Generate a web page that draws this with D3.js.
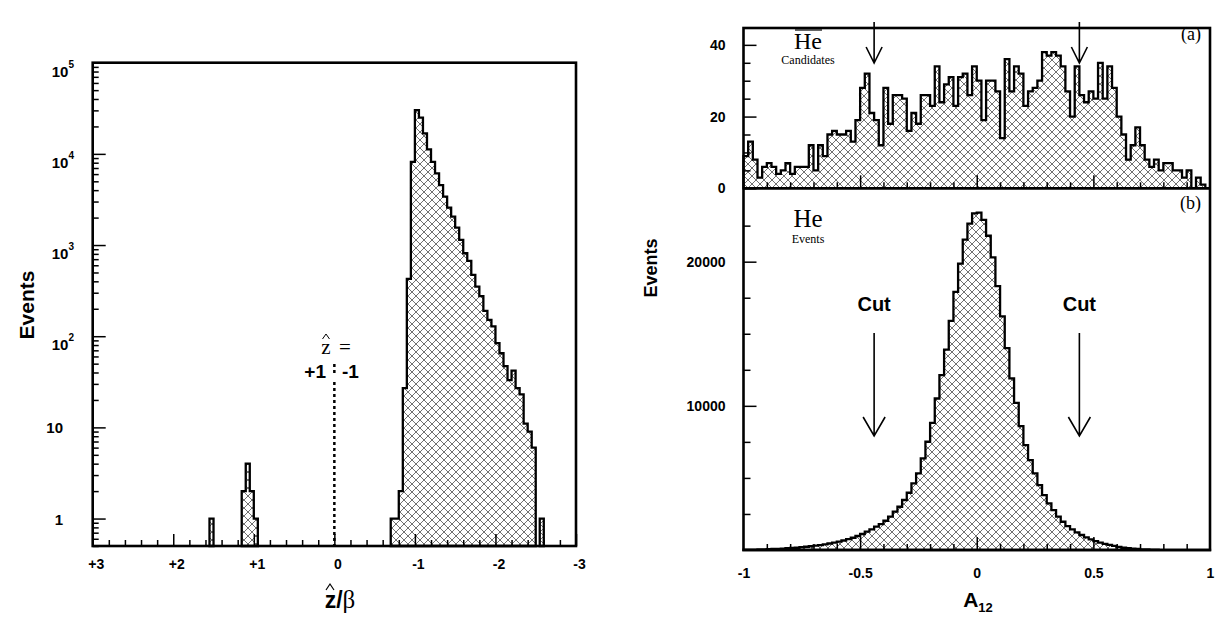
<!DOCTYPE html>
<html>
<head>
<meta charset="utf-8">
<script src="https://cdn.jsdelivr.net/npm/d3@7"></script>
<style>
  body { margin: 0; background: #fff; }
  .sans { font-family: "Liberation Sans", Arial, Helvetica, sans-serif; font-weight: bold; }
  .serif { font-family: "Liberation Serif", "Times New Roman", serif; }
</style>
</head>
<body>
<svg id="chart" width="1227" height="617"></svg>
<script>
// ---- left panel: z/beta histogram (log scale) ----
const zBinWidth = 0.05;
const zGroupStarts = [1.55, 1.15, -0.70, -2.55];
const zGroupCounts = [
  [1],
  [2, 4, 2, 1],
  [1, 1, 2, 27, 425, 8190, 30200, 25000, 16750, 11200, 8190, 6100, 4550, 3390,
   2570, 2050, 1550, 1137, 813, 670, 470, 350, 275, 190, 151, 128, 84, 65,
   47, 33, 42, 27, 23, 11, 9, 6],
  [1]
];
const zTicks = [3, 2, 1, 0, -1, -2, -3];
const zTickLabels = ["+3", "+2", "+1", "0", "-1", "-2", "-3"];
const logMajor = [1, 10, 100, 1000, 10000, 100000];
const logExp = [0, 1, 2, 3, 4, 5];

// ---- right panel: A12 histograms ----
const aStart = -1;
const aBinWidth = 0.02;
const candidateCounts = [
  9, 13, 8, 3, 6, 7, 6, 4, 5, 7,
  4, 6, 6, 6, 12, 5, 12, 9, 15, 16,
  15, 15, 16, 13, 19, 28, 32, 21, 19, 12,
  28, 18, 26, 26, 25, 16, 21, 18, 26, 26,
  23, 34, 24, 29, 31, 23, 31, 32, 26, 34,
  30, 19, 30, 30, 27, 14, 36, 27, 34, 32,
  23, 27, 28, 30, 38, 37, 38, 37, 34, 27,
  20, 34, 26, 24, 27, 25, 35, 25, 34, 28,
  20, 15, 8, 12, 17, 12, 8, 6, 8, 5,
  7, 7, 5, 5, 3, 5, 0, 3, 1, 0
];
const eventCounts = [
  20, 25, 30, 40, 50, 60, 70, 85, 100, 120,
  140, 165, 195, 225, 260, 300, 345, 395, 450, 510,
  580, 660, 750, 850, 970, 1110, 1270, 1430, 1620, 1800,
  2030, 2310, 2660, 3000, 3470, 3970, 4620, 5310, 6350, 7510,
  8820, 10510, 12130, 13900, 15900, 17900, 19870, 21530, 22640, 23350,
  23400, 22900, 21800, 20300, 18300, 16200, 14000, 11900, 10200, 8590,
  7280, 6240, 5310, 4500, 3810, 3230, 2770, 2310, 1960, 1660,
  1430, 1220, 1040, 880, 740, 620, 510, 420, 350, 280,
  210, 160, 120, 90, 70, 50, 40, 30, 20, 15,
  10, 8, 6, 5, 4, 3, 2, 2, 1, 1
];
const cutValues = [-0.44, 0.44];
const aTicks = [-1, -0.5, 0, 0.5, 1];
const aTickLabels = ["-1", "-0.5", "0", "0.5", "1"];
const topYTicks = [0, 20, 40];
const bottomYTicks = [10000, 20000];

const svg = d3.select("#chart");

// cross hatch fill
const pat = svg.append("defs").append("pattern")
  .attr("id", "hatch")
  .attr("patternUnits", "userSpaceOnUse")
  .attr("width", 8).attr("height", 8);
pat.append("path")
  .attr("d", "M0,0L8,8M8,0L0,8")
  .attr("stroke", "#333").attr("stroke-width", 0.7);

// builds the outline of a step histogram in data units
function histPoints(start, step, counts, floor) {
  const pts = [[start, floor]];
  counts.forEach((c, i) => {
    const v = Math.max(c, floor);
    pts.push([start + i * step, v], [start + (i + 1) * step, v]);
  });
  pts.push([start + counts.length * step, floor]);
  return pts;
}

function drawHist(g, pts, x, y) {
  const line = d3.line().x(d => x(d[0])).y(d => y(d[1]));
  g.append("path")
    .attr("d", line(pts) + "Z")
    .attr("fill", "url(#hatch)")
    .attr("stroke", "#000")
    .attr("stroke-width", 2.3)
    .attr("stroke-linejoin", "miter");
}

function cleanAxis(g) {
  g.select(".domain").remove();
  g.selectAll(".tick line").attr("stroke", "#000").attr("stroke-width", 1.5);
}

// small circumflex drawn as a mark
function hat(g, cx, y, w, h, sw) {
  g.append("path")
    .attr("d", `M${cx - w / 2},${y + h}L${cx},${y}L${cx + w / 2},${y + h}`)
    .attr("fill", "none").attr("stroke", "#000").attr("stroke-width", sw);
}

// =================== LEFT PANEL ===================
const xL = d3.scaleLinear().domain([3, -3]).range([92.7, 576]);
const yL = d3.scaleLog().domain([0.5, 1e5]).range([546, 62.7]);
const gL = svg.append("g");

zGroupStarts.forEach((s, i) => {
  drawHist(gL, histPoints(s, -zBinWidth, zGroupCounts[i], 0.5), xL, yL);
});

// log minor ticks
const logMinor = [];
for (let e = -1; e < 5; e++) {
  for (let m = 2; m < 10; m++) {
    const v = m * Math.pow(10, e);
    if (v >= 0.5 && v <= 1e5) logMinor.push(v);
  }
}
gL.append("g").attr("transform", "translate(92.7,0)")
  .call(d3.axisLeft(yL).tickValues(logMinor).tickSize(-6).tickFormat(""))
  .call(cleanAxis);
gL.append("g").attr("transform", "translate(92.7,0)")
  .call(d3.axisLeft(yL).tickValues(logMajor).tickSize(-13).tickFormat(""))
  .call(cleanAxis);

logMajor.forEach((v, i) => {
  const e = logExp[i];
  if (e < 2) {
    gL.append("text").attr("class", "sans")
      .attr("x", 63).attr("y", yL(v) + 6)
      .attr("text-anchor", "end").attr("font-size", 15)
      .text(String(v));
  } else {
    const t = gL.append("text").attr("class", "sans")
      .attr("x", 74).attr("y", yL(v) + 14)
      .attr("text-anchor", "end").attr("font-size", 15);
    t.append("tspan").text("10");
    t.append("tspan").attr("dy", -9).attr("font-size", 10).text(String(e));
  }
});

// x ticks
const zMinor = d3.range(-2.8, 3, 0.2).filter(v => Math.abs(v - Math.round(v)) > 0.01);
gL.append("g").attr("transform", "translate(0,546)")
  .call(d3.axisBottom(xL).tickValues(zMinor).tickSize(-6).tickFormat(""))
  .call(cleanAxis);
gL.append("g").attr("transform", "translate(0,546)")
  .call(d3.axisBottom(xL).tickValues(zTicks).tickSize(-12).tickPadding(13)
    .tickFormat((d, i) => zTickLabels[i]))
  .call(cleanAxis)
  .call(g => g.selectAll("text").attr("class", "sans").attr("font-size", 14)
    .attr("fill", "#000").attr("font-family", null).attr("dx", 3));

// frame
gL.append("rect")
  .attr("x", xL(3)).attr("y", yL(1e5))
  .attr("width", xL(-3) - xL(3)).attr("height", yL(0.5) - yL(1e5))
  .attr("fill", "none").attr("stroke", "#000").attr("stroke-width", 2.6);

// dotted separator at z = 0
gL.append("line")
  .attr("x1", xL(0)).attr("x2", xL(0))
  .attr("y1", 364).attr("y2", 545)
  .attr("stroke", "#000").attr("stroke-width", 2.5)
  .attr("stroke-dasharray", "3,3");
gL.append("rect").attr("x", xL(0) - 4).attr("y", 374).attr("width", 8).attr("height", 7)
  .attr("fill", "#fff");

gL.append("text").attr("class", "serif").attr("font-size", 21)
  .attr("x", 326).attr("y", 354).attr("text-anchor", "middle").text("z");
hat(gL, 326, 334, 7, 5, 1);
gL.append("text").attr("class", "serif").attr("font-size", 21)
  .attr("x", 345).attr("y", 354).attr("text-anchor", "middle").text("=");
gL.append("text").attr("class", "sans").attr("font-size", 19)
  .attr("x", 326).attr("y", 378).attr("text-anchor", "end").text("+1");
gL.append("text").attr("class", "sans").attr("font-size", 19)
  .attr("x", 342).attr("y", 378).attr("text-anchor", "start").text("-1");

// axis titles
svg.append("text").attr("class", "sans").attr("font-size", 21)
  .attr("transform", "translate(34,305) rotate(-90)")
  .attr("text-anchor", "middle").text("Events");

const zt = svg.append("text").attr("x", 340).attr("y", 608).attr("text-anchor", "middle");
zt.append("tspan").attr("class", "sans").attr("font-size", 23).text("z/");
zt.append("tspan").attr("class", "serif").attr("font-size", 25).text("β");
hat(svg, 330, 584, 8, 6, 1.2);

// =================== RIGHT PANEL ===================
const xR = d3.scaleLinear().domain([-1, 1]).range([743.5, 1210]);
const yTop = d3.scaleLinear().domain([0, 44.7]).range([188.3, 28]);
const yBot = d3.scaleLinear().domain([0, 25090]).range([550, 188.3]);
const gR = svg.append("g");

drawHist(gR, histPoints(aStart, aBinWidth, candidateCounts, 0), xR, yTop);
drawHist(gR, histPoints(aStart, aBinWidth, eventCounts, 0), xR, yBot);

// y axes
gR.append("g").attr("transform", "translate(743.5,0)")
  .call(d3.axisLeft(yTop).tickValues([5, 10, 15, 25, 30, 35]).tickSize(-7).tickFormat(""))
  .call(cleanAxis);
gR.append("g").attr("transform", "translate(743.5,0)")
  .call(d3.axisLeft(yTop).tickValues(topYTicks).tickSize(-13).tickPadding(18).tickFormat(d3.format("d")))
  .call(cleanAxis)
  .call(g => g.selectAll("text").attr("class", "sans").attr("font-size", 14)
    .attr("fill", "#000").attr("font-family", null));
gR.append("g").attr("transform", "translate(743.5,0)")
  .call(d3.axisLeft(yBot).tickValues([2500, 5000, 7500, 12500, 15000, 17500, 22500]).tickSize(-7).tickFormat(""))
  .call(cleanAxis);
gR.append("g").attr("transform", "translate(743.5,0)")
  .call(d3.axisLeft(yBot).tickValues(bottomYTicks).tickSize(-13).tickPadding(18).tickFormat(d3.format("d")))
  .call(cleanAxis)
  .call(g => g.selectAll("text").attr("class", "sans").attr("font-size", 14)
    .attr("fill", "#000").attr("font-family", null));

// x ticks (middle divider and bottom)
const aMinor = d3.range(-0.9, 1, 0.1).filter(v => Math.abs(v * 2 - Math.round(v * 2)) > 0.01);
[188.3, 550].forEach(yy => {
  gR.append("g").attr("transform", `translate(0,${yy})`)
    .call(d3.axisBottom(xR).tickValues(aMinor).tickSize(-6).tickFormat(""))
    .call(cleanAxis);
  gR.append("g").attr("transform", `translate(0,${yy})`)
    .call(d3.axisBottom(xR).tickValues([-0.5, 0, 0.5]).tickSize(-13).tickFormat(""))
    .call(cleanAxis);
});
gR.append("g").attr("transform", "translate(0,550)")
  .call(d3.axisBottom(xR).tickValues(aTicks).tickSize(0).tickPadding(18)
    .tickFormat((d, i) => aTickLabels[i]))
  .call(cleanAxis)
  .call(g => g.selectAll("text").attr("class", "sans").attr("font-size", 14)
    .attr("fill", "#000").attr("font-family", null));

// frame + divider
gR.append("rect")
  .attr("x", xR(-1)).attr("y", yTop(44.7))
  .attr("width", xR(1) - xR(-1)).attr("height", yBot(0) - yTop(44.7))
  .attr("fill", "none").attr("stroke", "#000").attr("stroke-width", 2.6);
gR.append("line")
  .attr("x1", xR(-1)).attr("x2", xR(1)).attr("y1", yTop(0)).attr("y2", yTop(0))
  .attr("stroke", "#000").attr("stroke-width", 2.6);

// arrows
function arrow(x, y0, y1, hw, hl) {
  gR.append("path")
    .attr("d", `M${x},${y0}L${x},${y1}M${x - hw},${y1 - hl}L${x},${y1}L${x + hw},${y1 - hl}`)
    .attr("fill", "none").attr("stroke", "#000").attr("stroke-width", 1.6);
}
cutValues.forEach(c => {
  arrow(xR(c), 22, 63, 8, 16);
  arrow(xR(c), 333, 436, 11, 19);
  gR.append("text").attr("class", "sans").attr("font-size", 20)
    .attr("x", xR(c)).attr("y", 311).attr("text-anchor", "middle").text("Cut");
});

// labels
gR.append("text").attr("class", "serif").attr("font-size", 18)
  .attr("x", 1201).attr("y", 40).attr("text-anchor", "end").text("(a)");
gR.append("text").attr("class", "serif").attr("font-size", 18)
  .attr("x", 1201).attr("y", 209).attr("text-anchor", "end").text("(b)");

gR.append("text").attr("class", "serif").attr("font-size", 24)
  .attr("x", 808).attr("y", 49).attr("text-anchor", "middle").text("He");
gR.append("line").attr("x1", 795).attr("x2", 822).attr("y1", 30).attr("y2", 30)
  .attr("stroke", "#000").attr("stroke-width", 1.2);
gR.append("text").attr("class", "serif").attr("font-size", 12)
  .attr("x", 808).attr("y", 64).attr("text-anchor", "middle").text("Candidates");

gR.append("text").attr("class", "serif").attr("font-size", 25)
  .attr("x", 808).attr("y", 227).attr("text-anchor", "middle").text("He");
gR.append("text").attr("class", "serif").attr("font-size", 12)
  .attr("x", 808).attr("y", 243).attr("text-anchor", "middle").text("Events");

svg.append("text").attr("class", "sans").attr("font-size", 18)
  .attr("transform", "translate(657,268) rotate(-90)")
  .attr("text-anchor", "middle").text("Events");

const at = svg.append("text").attr("class", "sans").attr("x", 978).attr("y", 607)
  .attr("text-anchor", "middle");
at.append("tspan").attr("font-size", 21).text("A");
at.append("tspan").attr("font-size", 13).attr("dy", 5).text("12");
</script>
</body>
</html>
